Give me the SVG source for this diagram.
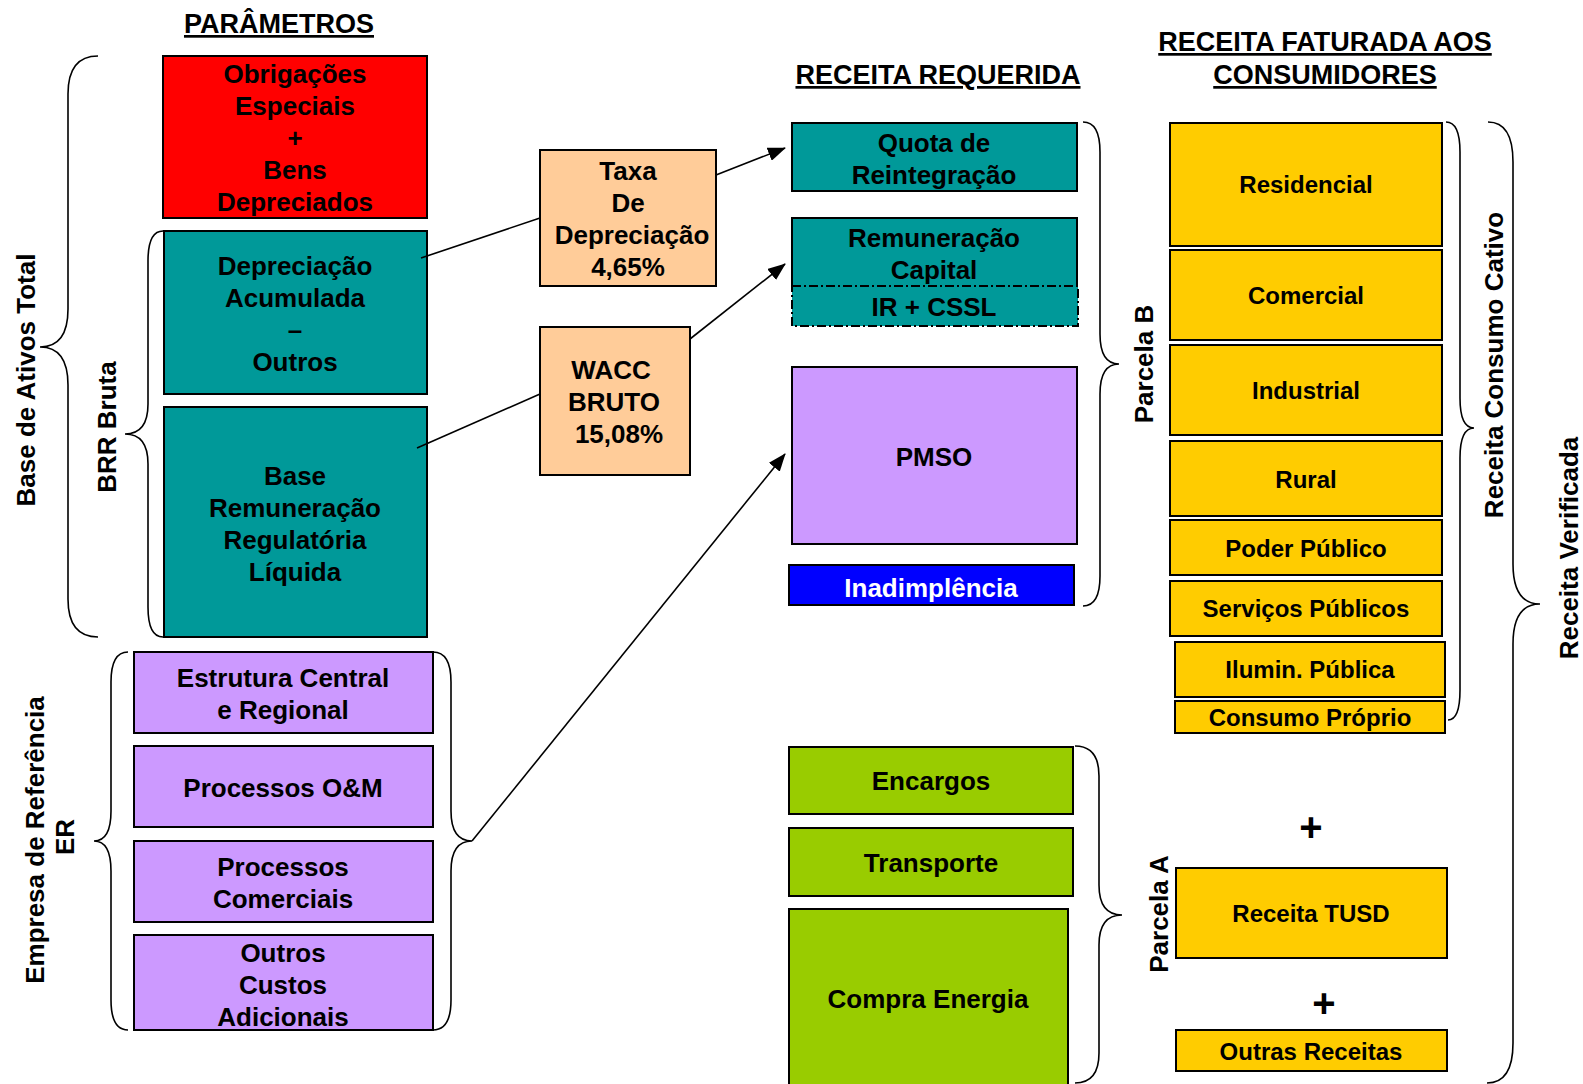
<svg xmlns="http://www.w3.org/2000/svg" width="1583" height="1084" viewBox="0 0 1583 1084">
<defs>
<style>
text{font-family:"Liberation Sans",Arial,sans-serif;font-weight:bold;font-size:26px;fill:#000;text-anchor:middle}
.y{font-size:24px}
.h{text-decoration:underline;font-size:27px}
.w{fill:#fff}
.box{stroke:#000;stroke-width:2}
.red{fill:#FF0000}.teal{fill:#009999}.org{fill:#FFCC99}.pur{fill:#CC99FF}.blue{fill:#0000FF}.grn{fill:#99CC00}.yel{fill:#FFCC00}
.brace{fill:none;stroke:#000;stroke-width:1.6}
.conn{stroke:#000;stroke-width:1.6;fill:none}
.plus{font-size:40px}
</style>
<marker id="arr" viewBox="0 0 18 14" refX="17" refY="7" markerWidth="18" markerHeight="14" markerUnits="userSpaceOnUse" orient="auto">
<path d="M0,0 L18,7 L0,14 z" fill="#000"/>
</marker>
</defs>
<rect width="1583" height="1084" fill="#fff"/>

<g id="headers">
<text class="h" x="279" y="33">PARÂMETROS</text>
<text class="h" x="938" y="84">RECEITA REQUERIDA</text>
<text class="h" x="1325" y="51">RECEITA FATURADA AOS</text>
<text class="h" x="1325" y="84">CONSUMIDORES</text>
</g>

<g id="braces">
<path class="brace" d="M98,56 Q68,56 68,94 L68,309 Q68,347 40,347 Q68,347 68,385 L68,599 Q68,637 98,637"/>
<path class="brace" d="M163,231 Q148,231 148,261 L148,404 Q148,434 125,434 Q148,434 148,464 L148,607 Q148,637 163,637"/>
<path class="brace" d="M128,652 Q111,652 111,682 L111,811 Q111,841 94,841 Q111,841 111,871 L111,1000 Q111,1030 128,1030"/>
<path class="brace" d="M433,652 Q451,652 451,682 L451,811 Q451,841 472,841 Q451,841 451,871 L451,1000 Q451,1030 433,1030"/>
<path class="brace" d="M1083,122 Q1100,122 1100,152 L1100,334 Q1100,364 1119,364 Q1100,364 1100,394 L1100,576 Q1100,606 1083,606"/>
<path class="brace" d="M1446,122 Q1460,122 1460,152 L1460,398 Q1460,428 1474,428 Q1460,428 1460,458 L1460,690 Q1460,720 1448,720"/>
<path class="brace" d="M1488,122 Q1513,122 1513,162 L1513,564 Q1513,604 1540,604 Q1513,604 1513,644 L1513,1043 Q1513,1083 1487,1083"/>
<path class="brace" d="M1075,746 Q1099,746 1099,776 L1099,885 Q1099,915 1122,915 Q1099,915 1099,945 L1099,1053 Q1099,1083 1075,1083"/>
</g>

<g id="brace-labels">
<text transform="translate(35,380) rotate(-90)">Base de Ativos Total</text>
<text transform="translate(116,427) rotate(-90)">BRR Bruta</text>
<text transform="translate(44,840) rotate(-90)">Empresa de Referência</text>
<text transform="translate(74,837) rotate(-90)">ER</text>
<text transform="translate(1153,364) rotate(-90)">Parcela B</text>
<text transform="translate(1168,914) rotate(-90)">Parcela A</text>
<text transform="translate(1503,365) rotate(-90)">Receita Consumo Cativo</text>
<text transform="translate(1578,548) rotate(-90)">Receita Verificada</text>
</g>

<g id="obrigacoes">
<rect class="box red" x="163" y="56" width="264" height="162"/>
<text><tspan x="295" y="83">Obrigações</tspan><tspan x="295" y="115">Especiais</tspan><tspan x="295" y="147">+</tspan><tspan x="295" y="179">Bens</tspan><tspan x="295" y="211">Depreciados</tspan></text>
</g>
<g id="depreciacao-acumulada">
<rect class="box teal" x="164" y="231" width="263" height="163"/>
<text><tspan x="295" y="275">Depreciação</tspan><tspan x="295" y="307">Acumulada</tspan><tspan x="295" y="339">–</tspan><tspan x="295" y="371">Outros</tspan></text>
</g>
<g id="base-remuneracao">
<rect class="box teal" x="164" y="407" width="263" height="230"/>
<text><tspan x="295" y="485">Base</tspan><tspan x="295" y="517">Remuneração</tspan><tspan x="295" y="549">Regulatória</tspan><tspan x="295" y="581">Líquida</tspan></text>
</g>
<g id="taxa-depreciacao">
<rect class="box org" x="540" y="150" width="176" height="136"/>
<text><tspan x="628" y="180">Taxa</tspan><tspan x="628" y="212">De</tspan><tspan x="632" y="244">Depreciação</tspan><tspan x="628" y="276">4,65%</tspan></text>
</g>
<g id="wacc">
<rect class="box org" x="540" y="327" width="150" height="148"/>
<text><tspan x="611" y="379">WACC</tspan><tspan x="614" y="411">BRUTO</tspan><tspan x="619" y="443">15,08%</tspan></text>
</g>

<g id="estrutura-central">
<rect class="box pur" x="134" y="652" width="299" height="81"/>
<text><tspan x="283" y="687">Estrutura Central</tspan><tspan x="283" y="719">e Regional</tspan></text>
</g>
<g id="processos-om">
<rect class="box pur" x="134" y="746" width="299" height="81"/>
<text x="283" y="797">Processos O&amp;M</text>
</g>
<g id="processos-comerciais">
<rect class="box pur" x="134" y="841" width="299" height="81"/>
<text><tspan x="283" y="876">Processos</tspan><tspan x="283" y="908">Comerciais</tspan></text>
</g>
<g id="outros-custos">
<rect class="box pur" x="134" y="935" width="299" height="95"/>
<text><tspan x="283" y="962">Outros</tspan><tspan x="283" y="994">Custos</tspan><tspan x="283" y="1026">Adicionais</tspan></text>
</g>

<g id="quota-reintegracao">
<rect class="box teal" x="792" y="123" width="285" height="68"/>
<text><tspan x="934" y="152">Quota de</tspan><tspan x="934" y="184">Reintegração</tspan></text>
</g>
<g id="remuneracao-capital">
<rect class="teal" x="792" y="218" width="285" height="68"/>
<path d="M792,286 V218 H1077 V286" fill="none" stroke="#000" stroke-width="2"/>
<text><tspan x="934" y="247">Remuneração</tspan><tspan x="934" y="279">Capital</tspan></text>
</g>
<g id="ir-cssl">
<rect class="teal" x="792" y="286" width="286" height="40" stroke="#000" stroke-width="2" stroke-dasharray="9,3,2,3"/>
<text x="934" y="316">IR + CSSL</text>
</g>
<g id="pmso">
<rect class="box pur" x="792" y="367" width="285" height="177"/>
<text x="934" y="466">PMSO</text>
</g>
<g id="inadimplencia">
<rect class="box blue" x="789" y="565" width="285" height="40"/>
<text class="w" x="931" y="597">Inadimplência</text>
</g>
<g id="encargos">
<rect class="box grn" x="789" y="747" width="284" height="67"/>
<text x="931" y="790">Encargos</text>
</g>
<g id="transporte">
<rect class="box grn" x="789" y="828" width="284" height="68"/>
<text x="931" y="872">Transporte</text>
</g>
<g id="compra-energia">
<rect class="box grn" x="789" y="909" width="279" height="180"/>
<text x="928" y="1008">Compra Energia</text>
</g>

<g id="residencial">
<rect class="box yel" x="1170" y="123" width="272" height="123"/>
<text class="y" x="1306" y="193">Residencial</text>
</g>
<g id="comercial">
<rect class="box yel" x="1170" y="250" width="272" height="90"/>
<text class="y" x="1306" y="304">Comercial</text>
</g>
<g id="industrial">
<rect class="box yel" x="1170" y="345" width="272" height="90"/>
<text class="y" x="1306" y="399">Industrial</text>
</g>
<g id="rural">
<rect class="box yel" x="1170" y="441" width="272" height="75"/>
<text class="y" x="1306" y="488">Rural</text>
</g>
<g id="poder-publico">
<rect class="box yel" x="1170" y="520" width="272" height="55"/>
<text class="y" x="1306" y="557">Poder Público</text>
</g>
<g id="servicos-publicos">
<rect class="box yel" x="1170" y="581" width="272" height="55"/>
<text class="y" x="1306" y="617">Serviços Públicos</text>
</g>
<g id="ilumin-publica">
<rect class="box yel" x="1175" y="642" width="270" height="55"/>
<text class="y" x="1310" y="678">Ilumin. Pública</text>
</g>
<g id="consumo-proprio">
<rect class="box yel" x="1175" y="701" width="270" height="32"/>
<text class="y" x="1310" y="726">Consumo Próprio</text>
</g>
<g id="plus-1"><text class="plus" x="1311" y="841">+</text></g>
<g id="receita-tusd">
<rect class="box yel" x="1176" y="868" width="271" height="90"/>
<text class="y" x="1311" y="922">Receita TUSD</text>
</g>
<g id="plus-2"><text class="plus" x="1324" y="1017">+</text></g>
<g id="outras-receitas">
<rect class="box yel" x="1176" y="1030" width="271" height="41"/>
<text class="y" x="1311" y="1060">Outras Receitas</text>
</g>

<g id="connectors">
<line class="conn" x1="421" y1="258" x2="540" y2="218"/>
<line class="conn" x1="417" y1="448" x2="540" y2="394"/>
<line class="conn" x1="716" y1="175" x2="785" y2="148" marker-end="url(#arr)"/>
<line class="conn" x1="690" y1="339" x2="785" y2="264" marker-end="url(#arr)"/>
<line class="conn" x1="472" y1="841" x2="785" y2="454" marker-end="url(#arr)"/>
</g>
</svg>
